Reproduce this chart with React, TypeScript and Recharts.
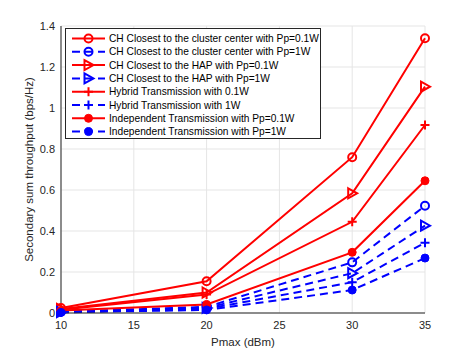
import { CartesianGrid, Line, LineChart, XAxis, YAxis } from 'recharts';

const RED = '#ff0000';
const BLUE = '#0000ff';
const AXIS = '#262626';

const pmax = [10, 20, 30, 35];
const chCenter01 = [0.024, 0.155, 0.76, 1.34];
const chCenter1 = [0.006, 0.03, 0.247, 0.523];
const chHap01 = [0.02, 0.1, 0.584, 1.104];
const chHap1 = [0.005, 0.025, 0.194, 0.426];
const hybrid01 = [0.016, 0.09, 0.445, 0.917];
const hybrid1 = [0.004, 0.02, 0.15, 0.343];
const indep01 = [0.012, 0.042, 0.296, 0.645];
const indep1 = [0.003, 0.015, 0.112, 0.268];

const xTicks = [10, 15, 20, 25, 30, 35];
const yTicks = [0, 0.2, 0.4, 0.6, 0.8, 1, 1.2, 1.4];

const series = [
  { key: 'a', name: 'CH Closest to the cluster center with Pp=0.1W', values: chCenter01, color: RED, dashed: false, marker: 'circle' },
  { key: 'b', name: 'CH Closest to the cluster center with Pp=1W', values: chCenter1, color: BLUE, dashed: true, marker: 'circle' },
  { key: 'c', name: 'CH Closest to the HAP with Pp=0.1W', values: chHap01, color: RED, dashed: false, marker: 'triangle' },
  { key: 'd', name: 'CH Closest to the HAP with Pp=1W', values: chHap1, color: BLUE, dashed: true, marker: 'triangle' },
  { key: 'e', name: 'Hybrid Transmission with 0.1W', values: hybrid01, color: RED, dashed: false, marker: 'plus' },
  { key: 'f', name: 'Hybrid Transmission with 1W', values: hybrid1, color: BLUE, dashed: true, marker: 'plus' },
  { key: 'g', name: 'Independent Transmission with Pp=0.1W', values: indep01, color: RED, dashed: false, marker: 'dot' },
  { key: 'h', name: 'Independent Transmission with Pp=1W', values: indep1, color: BLUE, dashed: true, marker: 'dot' },
];

const data = pmax.map((x, i) => {
  const row: Record<string, number> = { x };
  series.forEach((s) => (row[s.key] = s.values[i]));
  return row;
});

function Marker({ cx, cy, shape, color }: { cx: number; cy: number; shape: string; color: string }) {
  if (shape === 'circle') return <circle cx={cx} cy={cy} r={4} fill="none" stroke={color} strokeWidth={2} />;
  if (shape === 'triangle')
    return (
      <polygon
        points={`${cx - 4},${cy - 5} ${cx + 5},${cy} ${cx - 4},${cy + 5}`}
        fill="none"
        stroke={color}
        strokeWidth={2}
      />
    );
  if (shape === 'plus')
    return (
      <path d={`M${cx - 4.5},${cy}H${cx + 4.5}M${cx},${cy - 4.5}V${cy + 4.5}`} stroke={color} strokeWidth={2} />
    );
  return <circle cx={cx} cy={cy} r={4} fill={color} stroke={color} />;
}

const LegendBox = () => (
  <svg width={256} height={111} style={{ display: 'block' }}>
    <rect x={0.5} y={0.5} width={255} height={110} fill="#fff" stroke={AXIS} strokeWidth={1} />
    {series.map((s, i) => {
      const y = 10.5 + i * 13.3;
      return (
        <g key={s.key}>
          <line x1={7} x2={40} y1={y} y2={y} stroke={s.color} strokeWidth={2} strokeDasharray={s.dashed ? '8 5' : undefined} />
          <Marker cx={23.5} cy={y} shape={s.marker} color={s.color} />
          <text x={44} y={y + 3.6} fontSize={10.2} fill="#000" fontFamily="Liberation Sans, Arial, sans-serif">
            {s.name}
          </text>
        </g>
      );
    })}
  </svg>
);

export default function App() {
  return (
    <div style={{ position: 'absolute', left: 0, top: 0, width: 471, height: 353 }}>
      <LineChart
        width={471}
        height={353}
        data={data}
        margin={{ top: 26, right: 46, left: 21, bottom: 20 }}
        style={{ fontFamily: 'Liberation Sans, Arial, sans-serif' }}
      >
        <CartesianGrid stroke="#e5e5e5" strokeWidth={1} />
        <XAxis
          dataKey="x"
          type="number"
          domain={[10, 35]}
          ticks={xTicks}
          height={20}
          tickSize={0}
          tickMargin={8}
          stroke={AXIS}
          tick={{ fill: AXIS, fontSize: 11 }}
          label={{ value: 'Pmax (dBm)', position: 'insideBottom', offset: -13, fill: AXIS, fontSize: 11.5 }}
        />
        <XAxis xAxisId="top" orientation="top" type="number" domain={[10, 35]} ticks={xTicks} height={0} tick={false} tickLine={false} stroke={AXIS} />
        <YAxis
          type="number"
          domain={[0, 1.4]}
          ticks={yTicks}
          width={40}
          tickSize={0}
          tickMargin={6}
          stroke={AXIS}
          tick={{ fill: AXIS, fontSize: 11 }}
          label={{
            value: 'Secondary sum throughput (bps/Hz)',
            angle: -90,
            position: 'insideLeft',
            offset: 8,
            style: { textAnchor: 'middle' },
            fill: AXIS,
            fontSize: 11.5,
          }}
        />
        <YAxis yAxisId="right" orientation="right" type="number" domain={[0, 1.4]} ticks={yTicks} width={0} tick={false} tickLine={false} stroke={AXIS} />
        {series.map((s) => (
          <Line
            key={s.key}
            dataKey={s.key}
            name={s.name}
            stroke={s.color}
            strokeWidth={2}
            strokeDasharray={s.dashed ? '8 5' : undefined}
            isAnimationActive={false}
            dot={(p: any) => <Marker key={`${s.key}-${p.index}`} cx={p.cx} cy={p.cy} shape={s.marker} color={s.color} />}
            activeDot={false}
          />
        ))}
      </LineChart>
      <div style={{ position: 'absolute', left: 65, top: 28 }}>
        <LegendBox />
      </div>
    </div>
  );
}
